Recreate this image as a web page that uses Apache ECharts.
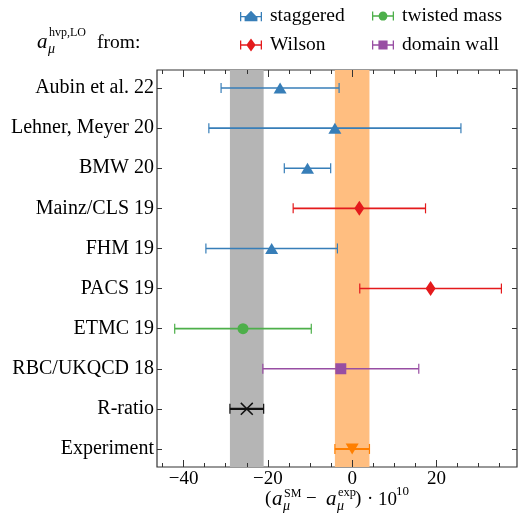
<!DOCTYPE html>
<html>
<head>
<meta charset="utf-8">
<script src="https://cdn.jsdelivr.net/npm/echarts@6/dist/echarts.min.js"></script>
<style>
  html, body { margin: 0; padding: 0; background: #fff; }
  #chart { width: 519px; height: 514px; }
</style>
</head>
<body>
<div id="chart"></div>
<script>
// rows, top to bottom
const categories = ['Aubin et al. 22', 'Lehner, Meyer 20', 'BMW 20', 'Mainz/CLS 19', 'FHM 19',
  'PACS 19', 'ETMC 19', 'RBC/UKQCD 18', 'R-ratio', 'Experiment']
const centralValues = [-17.1, -4.1, -10.6, 1.7, -19.1, 18.6, -25.9, -2.7, -25.0, 0.0]
const errors = [14.0, 29.9, 5.5, 15.7, 15.6, 16.8, 16.2, 18.5, 4.0, 4.1]
const groups = ['staggered', 'staggered', 'staggered', 'Wilson', 'staggered',
  'Wilson', 'twisted mass', 'domain wall', 'R-ratio', 'Experiment']

const majorTicks = [-40, -20, 0, 20]
const minorTicks = [-45, -35, -30, -25, -15, -10, -5, 5, 10, 15, 25, 30, 35]
const rowTicks = categories.map((c, i) => i)

const FONT = '"Liberation Serif", "Times New Roman", serif'
const X_MIN = -46.3
const X_MAX = 39.1

const styles = {
  'staggered': { color: '#377eb8', symbol: 'triangle', size: [13, 11], rotate: 0, width: 1.6 },
  'Wilson': { color: '#e41a1c', symbol: 'diamond', size: [10, 15], rotate: 0, width: 1.6 },
  'twisted mass': { color: '#4daf4a', symbol: 'circle', size: 11, rotate: 0, width: 1.6 },
  'domain wall': { color: '#984ea3', symbol: 'rect', size: 11, rotate: 0, width: 1.6 },
  'R-ratio': { color: '#111111', symbol: 'path://M0,0.8 L0.8,0 L5,4.2 L9.2,0 L10,0.8 L5.8,5 L10,9.2 L9.2,10 L5,5.8 L0.8,10 L0,9.2 L4.2,5 Z', size: 13, rotate: 0, width: 2.2 },
  'Experiment': { color: '#ff7f00', symbol: 'triangle', size: [13, 11], rotate: 180, width: 2 }
}

// legend icons: errorbar with the marker in the middle
const legendIcons = {
  'staggered': 'path://M0,2 L1.4,2 L1.4,6.3 L6.5,6.3 L12,0.5 L17.5,6.3 L22.6,6.3 L22.6,2 L24,2 L24,12 L22.6,12 L22.6,7.7 L19,7.7 L19,12 L5,12 L5,7.7 L1.4,7.7 L1.4,12 L0,12 Z',
  'Wilson': 'path://M0,2 L1.4,2 L1.4,6.3 L7.5,6.3 L12,0 L16.5,6.3 L22.6,6.3 L22.6,2 L24,2 L24,12 L22.6,12 L22.6,7.7 L16.5,7.7 L12,14 L7.5,7.7 L1.4,7.7 L1.4,12 L0,12 Z',
  'twisted mass': 'path://M0,2 L1.4,2 L1.4,6.3 L7.2,6.3 C7.8,3.4 9.6,2 12,2 C14.4,2 16.2,3.4 16.8,6.3 L22.6,6.3 L22.6,2 L24,2 L24,12 L22.6,12 L22.6,7.7 L16.8,7.7 C16.2,10.6 14.4,12 12,12 C9.6,12 7.8,10.6 7.2,7.7 L1.4,7.7 L1.4,12 L0,12 Z',
  'domain wall': 'path://M0,2 L1.4,2 L1.4,6.3 L7,6.3 L7,2 L17,2 L17,6.3 L22.6,6.3 L22.6,2 L24,2 L24,12 L22.6,12 L22.6,7.7 L17,7.7 L17,12 L7,12 L7,7.7 L1.4,7.7 L1.4,12 L0,12 Z'
}

function rowsOf(name) {
  const out = []
  groups.forEach((g, i) => { if (g === name) out.push(i) })
  return out
}

function errorBarSeries(name) {
  const st = styles[name]
  return {
    name: name,
    type: 'custom',
    z: 5,
    silent: true,
    color: st.color,
    data: rowsOf(name).map(i => [centralValues[i], errors[i], i]),
    renderItem: (params, api) => {
      const x = api.value(0), e = api.value(1), y = api.value(2)
      const p1 = api.coord([x - e, y])
      const p2 = api.coord([x + e, y])
      const cap = 5
      const ls = { stroke: st.color, lineWidth: st.width }
      const cs = { stroke: st.color, lineWidth: 1.2 }
      return {
        type: 'group',
        children: [
          { type: 'line', shape: { x1: p1[0], y1: p1[1], x2: p2[0], y2: p2[1] }, style: ls },
          { type: 'line', shape: { x1: p1[0], y1: p1[1] - cap, x2: p1[0], y2: p1[1] + cap }, style: cs },
          { type: 'line', shape: { x1: p2[0], y1: p2[1] - cap, x2: p2[0], y2: p2[1] + cap }, style: cs }
        ]
      }
    }
  }
}

function markerSeries(name) {
  const st = styles[name]
  return {
    name: name,
    type: 'scatter',
    z: 6,
    silent: true,
    symbol: st.symbol,
    symbolSize: st.size,
    symbolRotate: st.rotate,
    itemStyle: { color: st.color, opacity: 1 },
    color: st.color,
    data: rowsOf(name).map(i => [centralValues[i], i])
  }
}

const names = ['staggered', 'Wilson', 'twisted mass', 'domain wall', 'R-ratio', 'Experiment']
const series = []
names.forEach(n => { series.push(markerSeries(n)); series.push(errorBarSeries(n)) })

// shaded bands for R-ratio and experiment
const iR = categories.indexOf('R-ratio')
const iE = categories.indexOf('Experiment')
series.push({
  name: 'bands',
  type: 'scatter',
  z: 1,
  silent: true,
  data: [],
  markArea: {
    silent: true,
    data: [
      [{ xAxis: centralValues[iR] - errors[iR], itemStyle: { color: '#b5b5b5' } }, { xAxis: centralValues[iR] + errors[iR] }],
      [{ xAxis: centralValues[iE] - errors[iE], itemStyle: { color: '#ffbe80' } }, { xAxis: centralValues[iE] + errors[iE] }]
    ]
  }
})

const tickColor = '#333'
function xAxisDef(position, ticks, len, labels) {
  return {
    type: 'value', min: X_MIN, max: X_MAX, position: position, z: 4,
    axisLine: { show: false, onZero: false }, splitLine: { show: false },
    axisTick: { show: true, inside: true, length: len, customValues: ticks, lineStyle: { color: tickColor, width: 1 } },
    axisLabel: labels ? {
      show: true, customValues: ticks, margin: 3,
      fontFamily: FONT, fontSize: 19, color: '#000',
      formatter: v => String(v).replace('-', '\u2212')
    } : { show: false }
  }
}
function yAxisDef(position, labels) {
  return {
    type: 'value', min: -0.45, max: 9.45, inverse: true, position: position, z: 4,
    axisLine: { show: false, onZero: false }, splitLine: { show: false },
    axisTick: { show: true, inside: true, length: 5, customValues: rowTicks, lineStyle: { color: tickColor, width: 1 } },
    axisLabel: labels ? {
      show: true, customValues: rowTicks, margin: 3,
      fontFamily: FONT, fontSize: 20, color: '#000',
      formatter: v => categories[Math.round(v)]
    } : { show: false }
  }
}

const legendCommon = {
  orient: 'vertical', itemWidth: 22, itemHeight: 14, itemGap: 9, padding: 0, selectedMode: false,
  textStyle: { fontFamily: FONT, fontSize: 19.5, color: '#000', lineHeight: 20, padding: [0, 0, 0, 3] }
}

// text placed by its vertical middle
function t(text, x, y, size, italic) {
  return {
    type: 'text', x: x, y: y, silent: true,
    style: {
      text: text, fontFamily: FONT, fontSize: size, fill: '#000',
      fontStyle: italic ? 'italic' : 'normal', verticalAlign: 'middle', align: 'left'
    }
  }
}

const option = {
  animation: false,
  grid: { left: 157, top: 70, width: 360, height: 397, show: true, borderColor: '#333', borderWidth: 1.2, backgroundColor: 'transparent' },
  xAxis: [
    xAxisDef('bottom', majorTicks, 7, true),
    xAxisDef('bottom', minorTicks, 4, false),
    xAxisDef('top', majorTicks, 7, false),
    xAxisDef('top', minorTicks, 4, false)
  ],
  yAxis: [yAxisDef('left', true), yAxisDef('right', false)],
  legend: [
    Object.assign({}, legendCommon, {
      left: 240, top: 6,
      data: ['staggered', 'Wilson'].map(n => ({ name: n, icon: legendIcons[n] }))
    }),
    Object.assign({}, legendCommon, {
      left: 372, top: 6,
      data: ['twisted mass', 'domain wall'].map(n => ({ name: n, icon: legendIcons[n] }))
    })
  ],
  graphic: [
    // a_mu^{hvp,LO} from:
    t('a', 37, 42, 21, true),
    t('hvp,LO', 49, 33, 12),
    t('\u03bc', 48, 49, 14, true),
    t('from:', 97, 42.5, 19.5),
    // x axis name
    t('(', 265, 499.5, 19),
    t('a', 272, 499, 21, true),
    t('SM', 284, 493.5, 12),
    t('\u03bc', 283, 506, 14, true),
    t('\u2212', 306, 499.5, 19),
    t('a', 326, 499, 21, true),
    t('exp', 338, 493, 12.5),
    t('\u03bc', 337, 506, 14, true),
    t(')', 355, 499.5, 19),
    t('\u00b7', 367, 499.5, 19),
    t('10', 378, 500, 19),
    t('10', 396, 492, 13)
  ],
  series: series
}

const chart = echarts.init(document.getElementById('chart'))
chart.setOption(option)
</script>
</body>
</html>
